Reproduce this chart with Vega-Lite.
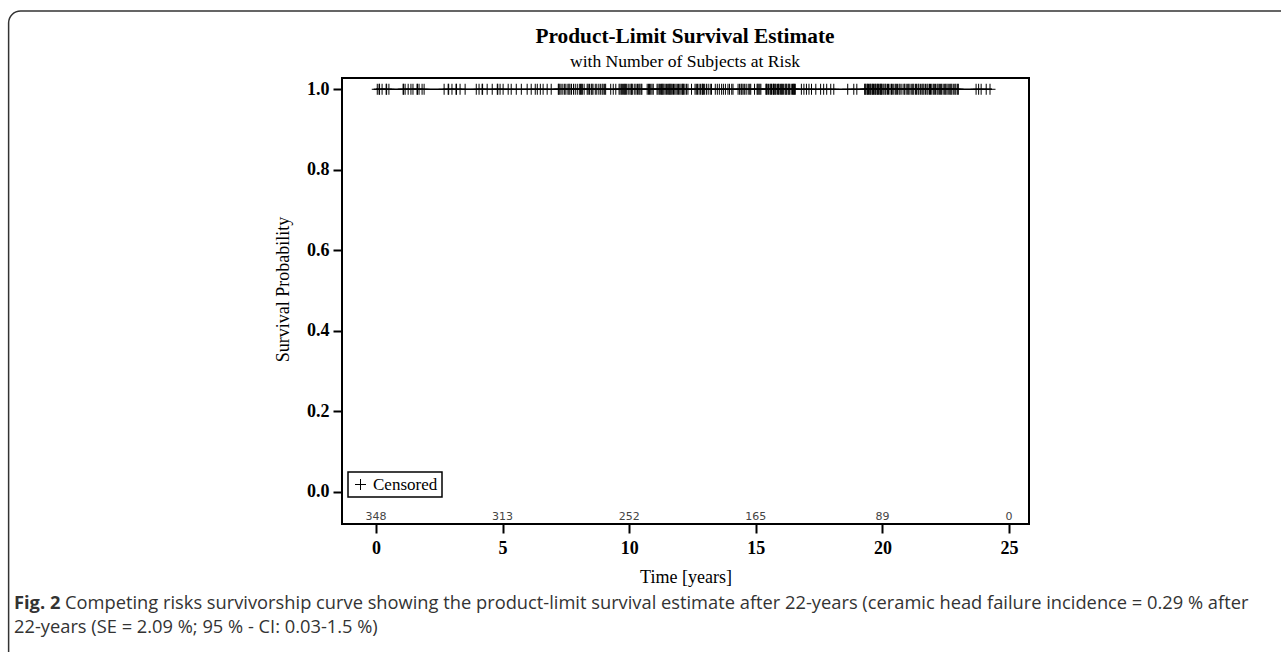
{
  "$schema": "https://vega.github.io/schema/vega-lite/v6.json",
  "autosize": {"type": "none"},
  "padding": {"left": 342, "top": 78, "right": 252, "bottom": 128},
  "width": 687,
  "height": 446,
  "background": "white",
  "config": {
    "view": {"stroke": "black", "strokeWidth": 2},
    "axis": {
      "domain": false,
      "grid": false,
      "tickColor": "black",
      "tickWidth": 2,
      "tickSize": 9,
      "labelFont": "Liberation Serif",
      "labelFontWeight": "bold",
      "labelFontSize": 18,
      "labelColor": "black",
      "titleFont": "Liberation Serif",
      "titleFontWeight": "normal",
      "titleFontSize": 18,
      "titleColor": "black"
    },
    "legend": {
      "strokeColor": "black",
      "strokeWidth": 1.5,
      "padding": 4,
      "cornerRadius": 0,
      "labelFont": "Liberation Serif",
      "labelFontSize": 17,
      "labelColor": "black",
      "symbolStrokeColor": "black",
      "symbolFillColor": "transparent",
      "symbolStrokeWidth": 1,
      "symbolSize": 121
    }
  },
  "datasets": {
    "survival": [
      {"time": 0, "surv": 1.0},
      {"time": 24.33, "surv": 1.0}
    ],
    "risk": [
      {"time": 0, "n": 348},
      {"time": 5, "n": 313},
      {"time": 10, "n": 252},
      {"time": 15, "n": 165},
      {"time": 20, "n": 89},
      {"time": 25, "n": 0}
    ],
    "censored": [
      {"time": 0.05, "surv": 1, "status": "Censored"},
      {"time": 0.12, "surv": 1, "status": "Censored"},
      {"time": 0.14, "surv": 1, "status": "Censored"},
      {"time": 0.24, "surv": 1, "status": "Censored"},
      {"time": 0.4, "surv": 1, "status": "Censored"},
      {"time": 0.42, "surv": 1, "status": "Censored"},
      {"time": 0.51, "surv": 1, "status": "Censored"},
      {"time": 1.07, "surv": 1, "status": "Censored"},
      {"time": 1.09, "surv": 1, "status": "Censored"},
      {"time": 1.15, "surv": 1, "status": "Censored"},
      {"time": 1.27, "surv": 1, "status": "Censored"},
      {"time": 1.38, "surv": 1, "status": "Censored"},
      {"time": 1.46, "surv": 1, "status": "Censored"},
      {"time": 1.62, "surv": 1, "status": "Censored"},
      {"time": 1.64, "surv": 1, "status": "Censored"},
      {"time": 1.7, "surv": 1, "status": "Censored"},
      {"time": 1.82, "surv": 1, "status": "Censored"},
      {"time": 1.9, "surv": 1, "status": "Censored"},
      {"time": 2.69, "surv": 1, "status": "Censored"},
      {"time": 2.85, "surv": 1, "status": "Censored"},
      {"time": 2.87, "surv": 1, "status": "Censored"},
      {"time": 3.0, "surv": 1, "status": "Censored"},
      {"time": 3.16, "surv": 1, "status": "Censored"},
      {"time": 3.18, "surv": 1, "status": "Censored"},
      {"time": 3.32, "surv": 1, "status": "Censored"},
      {"time": 3.52, "surv": 1, "status": "Censored"},
      {"time": 3.96, "surv": 1, "status": "Censored"},
      {"time": 4.07, "surv": 1, "status": "Censored"},
      {"time": 4.19, "surv": 1, "status": "Censored"},
      {"time": 4.21, "surv": 1, "status": "Censored"},
      {"time": 4.39, "surv": 1, "status": "Censored"},
      {"time": 4.59, "surv": 1, "status": "Censored"},
      {"time": 4.79, "surv": 1, "status": "Censored"},
      {"time": 4.81, "surv": 1, "status": "Censored"},
      {"time": 4.9, "surv": 1, "status": "Censored"},
      {"time": 5.02, "surv": 1, "status": "Censored"},
      {"time": 5.22, "surv": 1, "status": "Censored"},
      {"time": 5.34, "surv": 1, "status": "Censored"},
      {"time": 5.54, "surv": 1, "status": "Censored"},
      {"time": 5.74, "surv": 1, "status": "Censored"},
      {"time": 5.97, "surv": 1, "status": "Censored"},
      {"time": 6.13, "surv": 1, "status": "Censored"},
      {"time": 6.29, "surv": 1, "status": "Censored"},
      {"time": 6.37, "surv": 1, "status": "Censored"},
      {"time": 6.49, "surv": 1, "status": "Censored"},
      {"time": 6.6, "surv": 1, "status": "Censored"},
      {"time": 6.76, "surv": 1, "status": "Censored"},
      {"time": 6.92, "surv": 1, "status": "Censored"},
      {"time": 7.2, "surv": 1, "status": "Censored"},
      {"time": 7.22, "surv": 1, "status": "Censored"},
      {"time": 7.26, "surv": 1, "status": "Censored"},
      {"time": 7.31, "surv": 1, "status": "Censored"},
      {"time": 7.38, "surv": 1, "status": "Censored"},
      {"time": 7.45, "surv": 1, "status": "Censored"},
      {"time": 7.5, "surv": 1, "status": "Censored"},
      {"time": 7.58, "surv": 1, "status": "Censored"},
      {"time": 7.62, "surv": 1, "status": "Censored"},
      {"time": 7.66, "surv": 1, "status": "Censored"},
      {"time": 7.72, "surv": 1, "status": "Censored"},
      {"time": 7.8, "surv": 1, "status": "Censored"},
      {"time": 7.87, "surv": 1, "status": "Censored"},
      {"time": 7.95, "surv": 1, "status": "Censored"},
      {"time": 8.03, "surv": 1, "status": "Censored"},
      {"time": 8.08, "surv": 1, "status": "Censored"},
      {"time": 8.11, "surv": 1, "status": "Censored"},
      {"time": 8.15, "surv": 1, "status": "Censored"},
      {"time": 8.22, "surv": 1, "status": "Censored"},
      {"time": 8.34, "surv": 1, "status": "Censored"},
      {"time": 8.38, "surv": 1, "status": "Censored"},
      {"time": 8.43, "surv": 1, "status": "Censored"},
      {"time": 8.5, "surv": 1, "status": "Censored"},
      {"time": 8.53, "surv": 1, "status": "Censored"},
      {"time": 8.57, "surv": 1, "status": "Censored"},
      {"time": 8.66, "surv": 1, "status": "Censored"},
      {"time": 8.72, "surv": 1, "status": "Censored"},
      {"time": 8.8, "surv": 1, "status": "Censored"},
      {"time": 8.86, "surv": 1, "status": "Censored"},
      {"time": 8.93, "surv": 1, "status": "Censored"},
      {"time": 8.97, "surv": 1, "status": "Censored"},
      {"time": 9.03, "surv": 1, "status": "Censored"},
      {"time": 9.07, "surv": 1, "status": "Censored"},
      {"time": 9.27, "surv": 1, "status": "Censored"},
      {"time": 9.37, "surv": 1, "status": "Censored"},
      {"time": 9.47, "surv": 1, "status": "Censored"},
      {"time": 9.6, "surv": 1, "status": "Censored"},
      {"time": 9.64, "surv": 1, "status": "Censored"},
      {"time": 9.69, "surv": 1, "status": "Censored"},
      {"time": 9.73, "surv": 1, "status": "Censored"},
      {"time": 9.78, "surv": 1, "status": "Censored"},
      {"time": 9.82, "surv": 1, "status": "Censored"},
      {"time": 9.85, "surv": 1, "status": "Censored"},
      {"time": 9.9, "surv": 1, "status": "Censored"},
      {"time": 9.96, "surv": 1, "status": "Censored"},
      {"time": 10.03, "surv": 1, "status": "Censored"},
      {"time": 10.08, "surv": 1, "status": "Censored"},
      {"time": 10.1, "surv": 1, "status": "Censored"},
      {"time": 10.14, "surv": 1, "status": "Censored"},
      {"time": 10.22, "surv": 1, "status": "Censored"},
      {"time": 10.27, "surv": 1, "status": "Censored"},
      {"time": 10.33, "surv": 1, "status": "Censored"},
      {"time": 10.38, "surv": 1, "status": "Censored"},
      {"time": 10.42, "surv": 1, "status": "Censored"},
      {"time": 10.47, "surv": 1, "status": "Censored"},
      {"time": 10.5, "surv": 1, "status": "Censored"},
      {"time": 10.71, "surv": 1, "status": "Censored"},
      {"time": 10.76, "surv": 1, "status": "Censored"},
      {"time": 10.8, "surv": 1, "status": "Censored"},
      {"time": 10.85, "surv": 1, "status": "Censored"},
      {"time": 10.9, "surv": 1, "status": "Censored"},
      {"time": 10.95, "surv": 1, "status": "Censored"},
      {"time": 11.1, "surv": 1, "status": "Censored"},
      {"time": 11.14, "surv": 1, "status": "Censored"},
      {"time": 11.19, "surv": 1, "status": "Censored"},
      {"time": 11.23, "surv": 1, "status": "Censored"},
      {"time": 11.28, "surv": 1, "status": "Censored"},
      {"time": 11.3, "surv": 1, "status": "Censored"},
      {"time": 11.33, "surv": 1, "status": "Censored"},
      {"time": 11.37, "surv": 1, "status": "Censored"},
      {"time": 11.42, "surv": 1, "status": "Censored"},
      {"time": 11.47, "surv": 1, "status": "Censored"},
      {"time": 11.52, "surv": 1, "status": "Censored"},
      {"time": 11.56, "surv": 1, "status": "Censored"},
      {"time": 11.6, "surv": 1, "status": "Censored"},
      {"time": 11.62, "surv": 1, "status": "Censored"},
      {"time": 11.66, "surv": 1, "status": "Censored"},
      {"time": 11.7, "surv": 1, "status": "Censored"},
      {"time": 11.75, "surv": 1, "status": "Censored"},
      {"time": 11.8, "surv": 1, "status": "Censored"},
      {"time": 11.85, "surv": 1, "status": "Censored"},
      {"time": 11.9, "surv": 1, "status": "Censored"},
      {"time": 11.95, "surv": 1, "status": "Censored"},
      {"time": 12.0, "surv": 1, "status": "Censored"},
      {"time": 12.05, "surv": 1, "status": "Censored"},
      {"time": 12.1, "surv": 1, "status": "Censored"},
      {"time": 12.12, "surv": 1, "status": "Censored"},
      {"time": 12.15, "surv": 1, "status": "Censored"},
      {"time": 12.2, "surv": 1, "status": "Censored"},
      {"time": 12.26, "surv": 1, "status": "Censored"},
      {"time": 12.32, "surv": 1, "status": "Censored"},
      {"time": 12.46, "surv": 1, "status": "Censored"},
      {"time": 12.6, "surv": 1, "status": "Censored"},
      {"time": 12.65, "surv": 1, "status": "Censored"},
      {"time": 12.7, "surv": 1, "status": "Censored"},
      {"time": 12.76, "surv": 1, "status": "Censored"},
      {"time": 12.82, "surv": 1, "status": "Censored"},
      {"time": 12.88, "surv": 1, "status": "Censored"},
      {"time": 12.9, "surv": 1, "status": "Censored"},
      {"time": 12.93, "surv": 1, "status": "Censored"},
      {"time": 12.98, "surv": 1, "status": "Censored"},
      {"time": 13.05, "surv": 1, "status": "Censored"},
      {"time": 13.12, "surv": 1, "status": "Censored"},
      {"time": 13.2, "surv": 1, "status": "Censored"},
      {"time": 13.25, "surv": 1, "status": "Censored"},
      {"time": 13.4, "surv": 1, "status": "Censored"},
      {"time": 13.48, "surv": 1, "status": "Censored"},
      {"time": 13.56, "surv": 1, "status": "Censored"},
      {"time": 13.65, "surv": 1, "status": "Censored"},
      {"time": 13.72, "surv": 1, "status": "Censored"},
      {"time": 13.8, "surv": 1, "status": "Censored"},
      {"time": 13.9, "surv": 1, "status": "Censored"},
      {"time": 13.96, "surv": 1, "status": "Censored"},
      {"time": 14.05, "surv": 1, "status": "Censored"},
      {"time": 14.1, "surv": 1, "status": "Censored"},
      {"time": 14.3, "surv": 1, "status": "Censored"},
      {"time": 14.36, "surv": 1, "status": "Censored"},
      {"time": 14.42, "surv": 1, "status": "Censored"},
      {"time": 14.45, "surv": 1, "status": "Censored"},
      {"time": 14.5, "surv": 1, "status": "Censored"},
      {"time": 14.56, "surv": 1, "status": "Censored"},
      {"time": 14.62, "surv": 1, "status": "Censored"},
      {"time": 14.7, "surv": 1, "status": "Censored"},
      {"time": 14.76, "surv": 1, "status": "Censored"},
      {"time": 14.8, "surv": 1, "status": "Censored"},
      {"time": 14.95, "surv": 1, "status": "Censored"},
      {"time": 15.05, "surv": 1, "status": "Censored"},
      {"time": 15.08, "surv": 1, "status": "Censored"},
      {"time": 15.12, "surv": 1, "status": "Censored"},
      {"time": 15.16, "surv": 1, "status": "Censored"},
      {"time": 15.2, "surv": 1, "status": "Censored"},
      {"time": 15.4, "surv": 1, "status": "Censored"},
      {"time": 15.42, "surv": 1, "status": "Censored"},
      {"time": 15.45, "surv": 1, "status": "Censored"},
      {"time": 15.5, "surv": 1, "status": "Censored"},
      {"time": 15.56, "surv": 1, "status": "Censored"},
      {"time": 15.59, "surv": 1, "status": "Censored"},
      {"time": 15.62, "surv": 1, "status": "Censored"},
      {"time": 15.68, "surv": 1, "status": "Censored"},
      {"time": 15.7, "surv": 1, "status": "Censored"},
      {"time": 15.73, "surv": 1, "status": "Censored"},
      {"time": 15.77, "surv": 1, "status": "Censored"},
      {"time": 15.8, "surv": 1, "status": "Censored"},
      {"time": 15.86, "surv": 1, "status": "Censored"},
      {"time": 15.9, "surv": 1, "status": "Censored"},
      {"time": 15.92, "surv": 1, "status": "Censored"},
      {"time": 15.98, "surv": 1, "status": "Censored"},
      {"time": 16.02, "surv": 1, "status": "Censored"},
      {"time": 16.05, "surv": 1, "status": "Censored"},
      {"time": 16.1, "surv": 1, "status": "Censored"},
      {"time": 16.16, "surv": 1, "status": "Censored"},
      {"time": 16.19, "surv": 1, "status": "Censored"},
      {"time": 16.22, "surv": 1, "status": "Censored"},
      {"time": 16.28, "surv": 1, "status": "Censored"},
      {"time": 16.31, "surv": 1, "status": "Censored"},
      {"time": 16.34, "surv": 1, "status": "Censored"},
      {"time": 16.4, "surv": 1, "status": "Censored"},
      {"time": 16.45, "surv": 1, "status": "Censored"},
      {"time": 16.48, "surv": 1, "status": "Censored"},
      {"time": 16.5, "surv": 1, "status": "Censored"},
      {"time": 16.53, "surv": 1, "status": "Censored"},
      {"time": 16.56, "surv": 1, "status": "Censored"},
      {"time": 16.8, "surv": 1, "status": "Censored"},
      {"time": 16.9, "surv": 1, "status": "Censored"},
      {"time": 17.0, "surv": 1, "status": "Censored"},
      {"time": 17.1, "surv": 1, "status": "Censored"},
      {"time": 17.2, "surv": 1, "status": "Censored"},
      {"time": 17.37, "surv": 1, "status": "Censored"},
      {"time": 17.56, "surv": 1, "status": "Censored"},
      {"time": 17.68, "surv": 1, "status": "Censored"},
      {"time": 17.8, "surv": 1, "status": "Censored"},
      {"time": 17.96, "surv": 1, "status": "Censored"},
      {"time": 18.08, "surv": 1, "status": "Censored"},
      {"time": 18.63, "surv": 1, "status": "Censored"},
      {"time": 18.87, "surv": 1, "status": "Censored"},
      {"time": 18.99, "surv": 1, "status": "Censored"},
      {"time": 19.3, "surv": 1, "status": "Censored"},
      {"time": 19.32, "surv": 1, "status": "Censored"},
      {"time": 19.35, "surv": 1, "status": "Censored"},
      {"time": 19.4, "surv": 1, "status": "Censored"},
      {"time": 19.42, "surv": 1, "status": "Censored"},
      {"time": 19.45, "surv": 1, "status": "Censored"},
      {"time": 19.5, "surv": 1, "status": "Censored"},
      {"time": 19.52, "surv": 1, "status": "Censored"},
      {"time": 19.55, "surv": 1, "status": "Censored"},
      {"time": 19.6, "surv": 1, "status": "Censored"},
      {"time": 19.62, "surv": 1, "status": "Censored"},
      {"time": 19.65, "surv": 1, "status": "Censored"},
      {"time": 19.7, "surv": 1, "status": "Censored"},
      {"time": 19.72, "surv": 1, "status": "Censored"},
      {"time": 19.75, "surv": 1, "status": "Censored"},
      {"time": 19.8, "surv": 1, "status": "Censored"},
      {"time": 19.82, "surv": 1, "status": "Censored"},
      {"time": 19.85, "surv": 1, "status": "Censored"},
      {"time": 19.9, "surv": 1, "status": "Censored"},
      {"time": 19.92, "surv": 1, "status": "Censored"},
      {"time": 19.95, "surv": 1, "status": "Censored"},
      {"time": 19.97, "surv": 1, "status": "Censored"},
      {"time": 20.02, "surv": 1, "status": "Censored"},
      {"time": 20.06, "surv": 1, "status": "Censored"},
      {"time": 20.11, "surv": 1, "status": "Censored"},
      {"time": 20.14, "surv": 1, "status": "Censored"},
      {"time": 20.2, "surv": 1, "status": "Censored"},
      {"time": 20.24, "surv": 1, "status": "Censored"},
      {"time": 20.3, "surv": 1, "status": "Censored"},
      {"time": 20.36, "surv": 1, "status": "Censored"},
      {"time": 20.39, "surv": 1, "status": "Censored"},
      {"time": 20.45, "surv": 1, "status": "Censored"},
      {"time": 20.51, "surv": 1, "status": "Censored"},
      {"time": 20.55, "surv": 1, "status": "Censored"},
      {"time": 20.6, "surv": 1, "status": "Censored"},
      {"time": 20.66, "surv": 1, "status": "Censored"},
      {"time": 20.7, "surv": 1, "status": "Censored"},
      {"time": 20.77, "surv": 1, "status": "Censored"},
      {"time": 20.85, "surv": 1, "status": "Censored"},
      {"time": 20.88, "surv": 1, "status": "Censored"},
      {"time": 20.94, "surv": 1, "status": "Censored"},
      {"time": 21.0, "surv": 1, "status": "Censored"},
      {"time": 21.04, "surv": 1, "status": "Censored"},
      {"time": 21.09, "surv": 1, "status": "Censored"},
      {"time": 21.16, "surv": 1, "status": "Censored"},
      {"time": 21.2, "surv": 1, "status": "Censored"},
      {"time": 21.24, "surv": 1, "status": "Censored"},
      {"time": 21.31, "surv": 1, "status": "Censored"},
      {"time": 21.35, "surv": 1, "status": "Censored"},
      {"time": 21.41, "surv": 1, "status": "Censored"},
      {"time": 21.44, "surv": 1, "status": "Censored"},
      {"time": 21.5, "surv": 1, "status": "Censored"},
      {"time": 21.56, "surv": 1, "status": "Censored"},
      {"time": 21.6, "surv": 1, "status": "Censored"},
      {"time": 21.64, "surv": 1, "status": "Censored"},
      {"time": 21.7, "surv": 1, "status": "Censored"},
      {"time": 21.76, "surv": 1, "status": "Censored"},
      {"time": 21.8, "surv": 1, "status": "Censored"},
      {"time": 21.86, "surv": 1, "status": "Censored"},
      {"time": 21.9, "surv": 1, "status": "Censored"},
      {"time": 21.95, "surv": 1, "status": "Censored"},
      {"time": 22.01, "surv": 1, "status": "Censored"},
      {"time": 22.05, "surv": 1, "status": "Censored"},
      {"time": 22.1, "surv": 1, "status": "Censored"},
      {"time": 22.16, "surv": 1, "status": "Censored"},
      {"time": 22.2, "surv": 1, "status": "Censored"},
      {"time": 22.25, "surv": 1, "status": "Censored"},
      {"time": 22.3, "surv": 1, "status": "Censored"},
      {"time": 22.34, "surv": 1, "status": "Censored"},
      {"time": 22.4, "surv": 1, "status": "Censored"},
      {"time": 22.46, "surv": 1, "status": "Censored"},
      {"time": 22.5, "surv": 1, "status": "Censored"},
      {"time": 22.55, "surv": 1, "status": "Censored"},
      {"time": 22.6, "surv": 1, "status": "Censored"},
      {"time": 22.66, "surv": 1, "status": "Censored"},
      {"time": 22.7, "surv": 1, "status": "Censored"},
      {"time": 22.74, "surv": 1, "status": "Censored"},
      {"time": 22.8, "surv": 1, "status": "Censored"},
      {"time": 22.86, "surv": 1, "status": "Censored"},
      {"time": 22.9, "surv": 1, "status": "Censored"},
      {"time": 22.96, "surv": 1, "status": "Censored"},
      {"time": 23.0, "surv": 1, "status": "Censored"},
      {"time": 23.7, "surv": 1, "status": "Censored"},
      {"time": 23.8, "surv": 1, "status": "Censored"},
      {"time": 23.9, "surv": 1, "status": "Censored"},
      {"time": 24.1, "surv": 1, "status": "Censored"},
      {"time": 24.25, "surv": 1, "status": "Censored"}
    ],
    "texts": [
      {"part": "title", "text": "Product-Limit Survival Estimate"},
      {"part": "subtitle", "text": "with Number of Subjects at Risk"},
      {"part": "bold", "text": "Fig. 2"},
      {"part": "line1", "text": "Competing risks survivorship curve showing the product-limit survival estimate after 22-years (ceramic head failure incidence = 0.29 % after"},
      {"part": "line2", "text": "22-years (SE = 2.09 %; 95 % - CI: 0.03-1.5 %)"}
    ]
  },
  "layer": [
    {
      "data": {"values": [{"frame": "border"}]},
      "mark": {"type": "rect", "fill": null, "filled": false, "stroke": "#333333", "strokeWidth": 1.5, "cornerRadius": 12},
      "encoding": {
        "x": {"datum": -14.51, "type": "quantitative"},
        "x2": {"datum": 40},
        "y": {"datum": 1.1943, "type": "quantitative"},
        "y2": {"datum": -0.6}
      }
    },
    {
      "data": {"name": "survival"},
      "mark": {"type": "line", "color": "black", "strokeWidth": 1.5, "interpolate": "step-after"},
      "encoding": {
        "x": {
          "field": "time", "type": "quantitative",
          "scale": {"domain": [-1.343, 25.79], "nice": false, "zero": false},
          "axis": {"values": [0, 5, 10, 15, 20, 25], "title": "Time [years]", "labelPadding": 6, "titlePadding": 11}
        },
        "y": {
          "field": "surv", "type": "quantitative",
          "scale": {"domain": [-0.0802, 1.028], "nice": false, "zero": false},
          "axis": {"values": [0, 0.2, 0.4, 0.6, 0.8, 1.0], "format": ".1f", "title": "Survival Probability", "labelPadding": 4, "titlePadding": 14, "titleY": 211}
        }
      }
    },
    {
      "data": {"name": "censored"},
      "mark": {"type": "point", "filled": false, "color": "black", "strokeWidth": 1, "size": 121, "opacity": 1},
      "encoding": {
        "x": {"field": "time", "type": "quantitative"},
        "y": {"field": "surv", "type": "quantitative"},
        "shape": {
          "field": "status", "type": "nominal",
          "scale": {"range": ["M-1,0L1,0M0,-1L0,1"]},
          "legend": {"title": null, "orient": "none", "legendX": 6, "legendY": 394}
        }
      }
    },
    {
      "data": {"name": "risk"},
      "mark": {"type": "text", "font": "DejaVu Sans", "fontSize": 11, "color": "#444444", "baseline": "middle", "align": "center"},
      "encoding": {
        "x": {"field": "time", "type": "quantitative"},
        "y": {"datum": -0.0616, "type": "quantitative"},
        "text": {"field": "n", "type": "quantitative"}
      }
    },
    {
      "data": {"name": "texts"},
      "transform": [{"filter": "datum.part == 'title'"}],
      "mark": {"type": "text", "font": "Liberation Serif", "fontSize": 21.3, "fontWeight": "bold", "color": "black", "align": "center", "baseline": "middle"},
      "encoding": {
        "x": {"datum": 12.204, "type": "quantitative"},
        "y": {"datum": 1.1297, "type": "quantitative"},
        "text": {"field": "text"}
      }
    },
    {
      "data": {"name": "texts"},
      "transform": [{"filter": "datum.part == 'subtitle'"}],
      "mark": {"type": "text", "font": "Liberation Serif", "fontSize": 17.6, "color": "black", "align": "center", "baseline": "middle"},
      "encoding": {
        "x": {"datum": 12.204, "type": "quantitative"},
        "y": {"datum": 1.0676, "type": "quantitative"},
        "text": {"field": "text"}
      }
    },
    {
      "data": {"name": "texts"},
      "transform": [{"filter": "datum.part == 'bold'"}],
      "mark": {"type": "text", "font": "Open Sans", "fontSize": 18.3, "fontWeight": "bold", "color": "#333333", "align": "left", "baseline": "alphabetic"},
      "encoding": {
        "x": {"datum": -14.297, "type": "quantitative"},
        "y": {"datum": -0.2914, "type": "quantitative"},
        "text": {"field": "text"}
      }
    },
    {
      "data": {"name": "texts"},
      "transform": [{"filter": "datum.part == 'line1'"}],
      "mark": {"type": "text", "font": "Open Sans", "fontSize": 18.3, "color": "#333333", "align": "left", "baseline": "alphabetic"},
      "encoding": {
        "x": {"datum": -12.28, "type": "quantitative"},
        "y": {"datum": -0.2914, "type": "quantitative"},
        "text": {"field": "text"}
      }
    },
    {
      "data": {"name": "texts"},
      "transform": [{"filter": "datum.part == 'line2'"}],
      "mark": {"type": "text", "font": "Open Sans", "fontSize": 18.3, "color": "#333333", "align": "left", "baseline": "alphabetic"},
      "encoding": {
        "x": {"datum": -14.297, "type": "quantitative"},
        "y": {"datum": -0.3512, "type": "quantitative"},
        "text": {"field": "text"}
      }
    }
  ]
}
